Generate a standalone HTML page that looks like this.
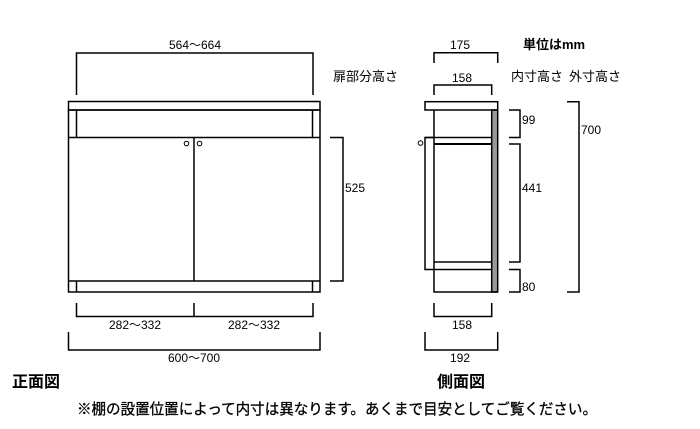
<!DOCTYPE html>
<html><head><meta charset="utf-8"><style>
html,body{margin:0;padding:0;background:#fff;width:700px;height:429px;overflow:hidden}
svg{display:block}
text{font-family:"Liberation Sans","Noto Sans CJK JP",sans-serif;fill:#000}
</style></head><body>
<svg width="700" height="429" viewBox="0 0 700 429" xmlns="http://www.w3.org/2000/svg">
<g stroke="#000" stroke-width="1.5" fill="none">
<!-- front view -->
<rect x="68.5" y="101.5" width="251.5" height="8.5"/>
<rect x="68.5" y="110" width="251.5" height="182"/>
<line x1="76.5" y1="110" x2="76.5" y2="137.5"/>
<line x1="312.5" y1="110" x2="312.5" y2="137.5"/>
<line x1="76.5" y1="281" x2="76.5" y2="292"/>
<line x1="312.5" y1="281" x2="312.5" y2="292"/>
<line x1="68.5" y1="137.5" x2="320" y2="137.5"/>
<line x1="68.5" y1="281" x2="320" y2="281"/>
<line x1="194" y1="137.5" x2="194" y2="281"/>
<circle cx="186.5" cy="143.5" r="2.3" stroke-width="1"/>
<circle cx="199.5" cy="143.5" r="2.3" stroke-width="1"/>
<!-- front dims -->
<polyline points="76.5,95 76.5,53 313,53 313,95"/>
<polyline points="330,137.5 343,137.5 343,281 330,281"/>
<polyline points="76.5,303 76.5,316.5 313,316.5 313,303"/>
<line x1="194" y1="303" x2="194" y2="316.5"/>
<polyline points="68.5,332 68.5,350 320,350 320,332"/>
<!-- side view -->
<rect x="491.7" y="110" width="6" height="182" fill="#999"/>
<rect x="425" y="101.7" width="72.7" height="8.3"/>
<polyline points="434,110 434,292 497.7,292"/>
<polyline points="434,137.5 425,137.5 425,269.5 491.7,269.5"/>
<line x1="425" y1="137.5" x2="491.7" y2="137.5"/>
<line x1="434" y1="144" x2="491.7" y2="144" stroke-width="2"/>
<line x1="434" y1="262" x2="491.7" y2="262" stroke-width="1.6"/>
<circle cx="420.5" cy="143" r="2.3" stroke-width="1"/>
<!-- side dims -->
<polyline points="434,63 434,52.7 497.7,52.7 497.7,63"/>
<polyline points="434,95 434,85 491.7,85 491.7,95"/>
<polyline points="509,110 520,110 520,137.5 509,137.5"/>
<polyline points="509,144 520,144 520,262 509,262"/>
<polyline points="509,269.5 520,269.5 520,292 509,292"/>
<polyline points="567,101.7 579,101.7 579,292 567,292"/>
<polyline points="434,303 434,316.5 491.7,316.5 491.7,303"/>
<polyline points="425,332 425,350 497.7,350 497.7,332"/>
</g>
<g font-size="12">
<text x="195" y="49" text-anchor="middle">564～664</text>
<text x="333" y="81" font-size="13">扉部分高さ</text>
<text x="345" y="192">525</text>
<text x="135" y="329" text-anchor="middle">282～332</text>
<text x="254" y="329" text-anchor="middle">282～332</text>
<text x="194" y="362" text-anchor="middle">600～700</text>
<text x="460" y="49" text-anchor="middle">175</text>
<text x="462" y="82" text-anchor="middle">158</text>
<text x="523" y="49" font-weight="bold" font-size="13">単位はmm</text>
<text x="511" y="81" font-size="13">内寸高さ</text>
<text x="569" y="81" font-size="13">外寸高さ</text>
<text x="522" y="124">99</text>
<text x="522" y="192">441</text>
<text x="522" y="291">80</text>
<text x="581" y="134">700</text>
<text x="462" y="329" text-anchor="middle">158</text>
<text x="460" y="362" text-anchor="middle">192</text>
</g>
<text x="12" y="387" font-size="16" font-weight="bold">正面図</text>
<text x="437" y="387" font-size="16" font-weight="bold">側面図</text>
<text x="77" y="414" font-size="15" textLength="520" lengthAdjust="spacingAndGlyphs" stroke="#000" stroke-width="0.3">※棚の設置位置によって内寸は異なります。あくまで目安としてご覧ください。</text>
</svg>
</body></html>
